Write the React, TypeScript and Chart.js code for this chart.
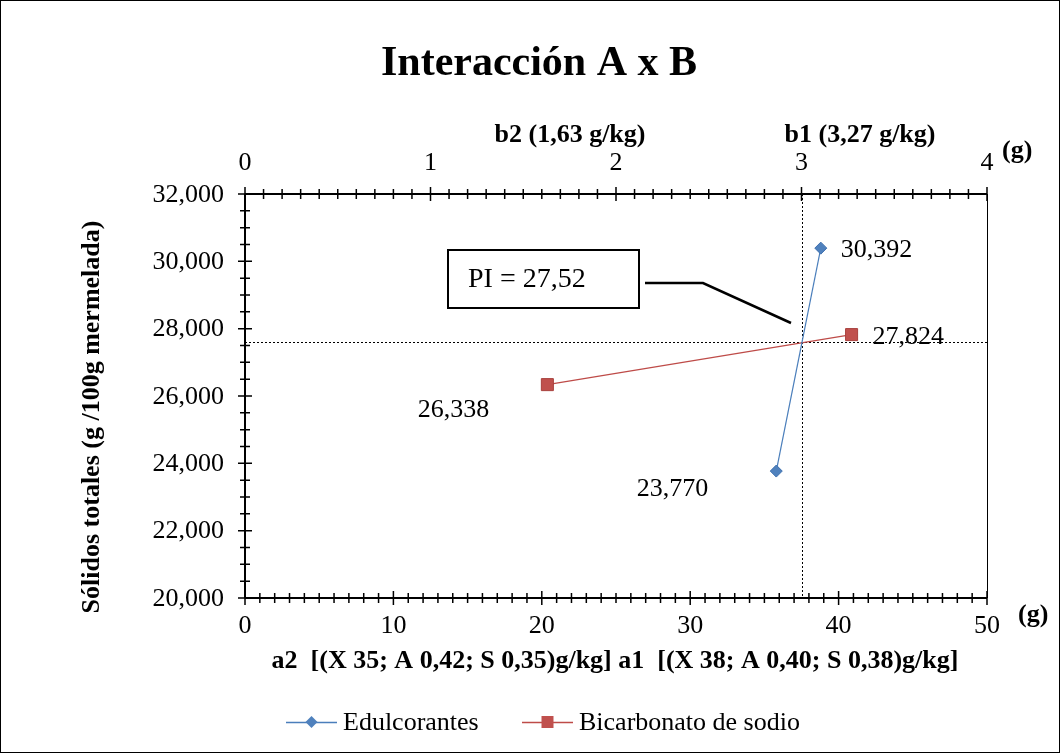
import React, { useEffect, useRef } from 'react';
import { Chart, registerables } from 'chart.js';

Chart.register(...registerables);

// ---------- data ----------
const TITLE = 'Interacción A x B';
const SERIES_NAMES = ['Edulcorantes', 'Bicarbonato de sodio'];
// Edulcorantes: plotted against the bottom axis (0–50 g)
const EDULCORANTES_X = [35.8, 38.8];
const EDULCORANTES_Y = [23.77, 30.392];
// Bicarbonato de sodio: plotted against the top axis (0–4 g)
const BICARBONATO_X = [1.63, 3.27];
const BICARBONATO_Y = [26.338, 27.824];

const BOTTOM_TICKS = [0, 10, 20, 30, 40, 50];
const TOP_TICKS = [0, 1, 2, 3, 4];
const Y_TICKS = [20, 22, 24, 26, 28, 30, 32];
const TOP_LEVEL_LABELS = ['b2 (1,63 g/kg)', 'b1 (3,27 g/kg)'];
const BOTTOM_TITLE = 'a2  [(X 35; A 0,42; S 0,35)g/kg] a1  [(X 38; A 0,40; S 0,38)g/kg]';
const Y_TITLE = 'Sólidos totales (g /100g mermelada)';
const UNIT_LABEL = '(g)';
const PI_LABEL = 'PI = 27,52';
const PI_X_TOP = 3.0;
const PI_Y = 27.6;

const BLUE_LINE = '#4a7ebb';
const BLUE_MARK = '#4f81bd';
const RED_LINE = '#be4b48';
const RED_MARK = '#c0504d';
const SERIF = '"Liberation Serif", "Times New Roman", serif';

const fmt = (v: number) => v.toFixed(3).replace('.', ',');

const customPlugin = {
  id: 'customAxes',
  beforeDatasetsDraw(chart: any) {
    const { ctx, chartArea: a, scales } = chart;
    const px = Math.round(scales.x2.getPixelForValue(PI_X_TOP)) + 0.5;
    const py = Math.round(scales.y.getPixelForValue(PI_Y)) + 0.5;
    ctx.save();
    ctx.strokeStyle = '#000';
    ctx.lineWidth = 1;
    ctx.setLineDash([2, 2]);
    ctx.beginPath();
    ctx.moveTo(px, a.top);
    ctx.lineTo(px, a.bottom);
    ctx.stroke();
    ctx.beginPath();
    ctx.moveTo(a.left, py);
    ctx.lineTo(a.right, py);
    ctx.stroke();
    ctx.restore();
  },
  afterDraw(chart: any) {
    const { ctx, chartArea: a, scales } = chart;
    const xs = scales.x;
    const x2 = scales.x2;
    const ys = scales.y;
    ctx.save();
    ctx.setLineDash([]);
    ctx.strokeStyle = '#000';
    ctx.fillStyle = '#000';

    // right border of plot
    ctx.lineWidth = 1;
    ctx.beginPath();
    ctx.moveTo(Math.round(a.right) + 0.5, a.top);
    ctx.lineTo(Math.round(a.right) + 0.5, a.bottom);
    ctx.stroke();

    // axis lines
    ctx.lineWidth = 2;
    ctx.beginPath();
    ctx.moveTo(a.left, a.top);
    ctx.lineTo(a.left, a.bottom);
    ctx.moveTo(a.left, a.bottom);
    ctx.lineTo(a.right, a.bottom);
    ctx.moveTo(a.left, a.top);
    ctx.lineTo(a.right, a.top);
    ctx.stroke();

    // ticks (crossing)
    ctx.lineWidth = 1.5;
    ctx.beginPath();
    for (let i = 0; i <= 50; i++) {
      const p = xs.getPixelForValue(i);
      const l = i % 10 === 0 ? 7 : 5;
      ctx.moveTo(p, a.bottom - l);
      ctx.lineTo(p, a.bottom + l);
    }
    for (let i = 0; i <= 40; i++) {
      const p = x2.getPixelForValue(i / 10);
      const l = i % 10 === 0 ? 7 : 5;
      ctx.moveTo(p, a.top - l);
      ctx.lineTo(p, a.top + l);
    }
    for (let i = 0; i <= 24; i++) {
      const p = ys.getPixelForValue(20 + i / 2);
      const l = i % 4 === 0 ? 7 : 5;
      ctx.moveTo(a.left - l, p);
      ctx.lineTo(a.left + l, p);
    }
    ctx.stroke();

    // tick labels
    ctx.font = `26px ${SERIF}`;
    ctx.textAlign = 'center';
    ctx.textBaseline = 'alphabetic';
    BOTTOM_TICKS.forEach((t) => ctx.fillText(String(t), xs.getPixelForValue(t), a.bottom + 35));
    TOP_TICKS.forEach((t) => ctx.fillText(String(t), x2.getPixelForValue(t), a.top - 24));
    ctx.textAlign = 'right';
    ctx.textBaseline = 'middle';
    Y_TICKS.forEach((t) => ctx.fillText(fmt(t), a.left - 21, ys.getPixelForValue(t) + 1));

    // unit labels
    ctx.font = `bold 26px ${SERIF}`;
    ctx.textAlign = 'left';
    ctx.textBaseline = 'alphabetic';
    ctx.fillText(UNIT_LABEL, a.right + 15, a.top - 36);
    ctx.fillText(UNIT_LABEL, a.right + 31, a.bottom + 24);

    // top level labels
    ctx.textAlign = 'center';
    ctx.fillText(TOP_LEVEL_LABELS[0], 570, 142);
    ctx.fillText(TOP_LEVEL_LABELS[1], 860, 142);

    // bottom title
    ctx.fillText(BOTTOM_TITLE, 615, 668);

    // y title
    ctx.save();
    ctx.translate(99, 417);
    ctx.rotate(-Math.PI / 2);
    ctx.textBaseline = 'alphabetic';
    ctx.fillText(Y_TITLE, 0, 0);
    ctx.restore();

    // main title
    ctx.font = `bold 42px ${SERIF}`;
    ctx.textAlign = 'center';
    ctx.fillText(TITLE, 539, 75);

    // data labels
    ctx.font = `26px ${SERIF}`;
    ctx.textBaseline = 'middle';
    const offs = [
      [[-68, 18, 'right'], [20, 2, 'left']],
      [[-58, 26, 'right'], [21, 3, 'left']],
    ];
    chart.data.datasets.forEach((ds: any, di: number) => {
      const meta = chart.getDatasetMeta(di);
      meta.data.forEach((el: any, i: number) => {
        const [dx, dy, al] = offs[di][i] as [number, number, CanvasTextAlign];
        ctx.textAlign = al;
        ctx.fillText(fmt(ds.data[i].y), el.x + dx, el.y + dy);
      });
    });

    // callout
    ctx.lineWidth = 2;
    ctx.strokeRect(448, 250, 191, 58);
    ctx.textAlign = 'left';
    ctx.font = `28px ${SERIF}`;
    ctx.fillText(PI_LABEL, 468, 280);
    ctx.lineWidth = 2.5;
    ctx.beginPath();
    ctx.moveTo(645, 283);
    ctx.lineTo(703, 283);
    ctx.lineTo(791, 323);
    ctx.stroke();

    // legend
    const legendY = 722;
    const items = [
      { x: 286, color: BLUE_LINE, fill: BLUE_MARK, style: 'diamond' },
      { x: 522, color: RED_LINE, fill: RED_MARK, style: 'square' },
    ];
    ctx.font = `26px ${SERIF}`;
    ctx.textBaseline = 'middle';
    items.forEach((it, i) => {
      ctx.strokeStyle = it.color;
      ctx.lineWidth = 1.5;
      ctx.beginPath();
      ctx.moveTo(it.x, legendY + 0.5);
      ctx.lineTo(it.x + 51, legendY + 0.5);
      ctx.stroke();
      const cx = it.x + 25.5;
      ctx.fillStyle = it.fill;
      ctx.beginPath();
      if (it.style === 'diamond') {
        ctx.moveTo(cx, legendY - 6);
        ctx.lineTo(cx + 6, legendY);
        ctx.lineTo(cx, legendY + 6);
        ctx.lineTo(cx - 6, legendY);
        ctx.closePath();
      } else {
        ctx.rect(cx - 6, legendY - 6, 12, 12);
      }
      ctx.fill();
      ctx.fillStyle = '#000';
      ctx.textAlign = 'left';
      ctx.fillText(SERIES_NAMES[i], it.x + 57, legendY + 1);
    });

    // outer border
    ctx.strokeStyle = '#000';
    ctx.lineWidth = 1;
    ctx.strokeRect(0.5, 0.5, chart.width - 1, chart.height - 1);
    ctx.restore();
  },
};

export default function App() {
  const ref = useRef<HTMLCanvasElement | null>(null);
  useEffect(() => {
    if (!ref.current) return;
    const chart = new Chart(ref.current, {
      type: 'scatter',
      data: {
        datasets: [
          {
            label: SERIES_NAMES[0],
            data: EDULCORANTES_X.map((x, i) => ({ x, y: EDULCORANTES_Y[i] })),
            xAxisID: 'x',
            yAxisID: 'y',
            showLine: true,
            borderColor: BLUE_LINE,
            borderWidth: 1.2,
            backgroundColor: BLUE_MARK,
            pointStyle: 'rectRot',
            pointRadius: 6,
            pointBorderColor: '#3d6fae',
            pointBorderWidth: 1,
          },
          {
            label: SERIES_NAMES[1],
            data: BICARBONATO_X.map((x, i) => ({ x, y: BICARBONATO_Y[i] })),
            xAxisID: 'x2',
            yAxisID: 'y',
            showLine: true,
            borderColor: RED_LINE,
            borderWidth: 1.2,
            backgroundColor: RED_MARK,
            pointStyle: 'rect',
            pointRadius: 8.5,
            pointBorderColor: '#a8403d',
            pointBorderWidth: 1,
          },
        ],
      },
      options: {
        responsive: false,
        animation: false,
        devicePixelRatio: 1,
        layout: { padding: { left: 245, right: 73, top: 194, bottom: 155 } },
        plugins: { legend: { display: false }, title: { display: false }, tooltip: { enabled: false } },
        scales: {
          x: { type: 'linear', min: 0, max: 50, display: false },
          x2: { type: 'linear', min: 0, max: 4, display: false, position: 'top' },
          y: { type: 'linear', min: 20, max: 32, display: false },
        },
      },
      plugins: [customPlugin],
    });
    return () => chart.destroy();
  }, []);
  return (
    <div style={{ position: 'absolute', left: 0, top: 0, width: 1060, height: 753, background: '#fff' }}>
      <canvas ref={ref} width={1060} height={753} style={{ display: 'block' }} />
    </div>
  );
}
